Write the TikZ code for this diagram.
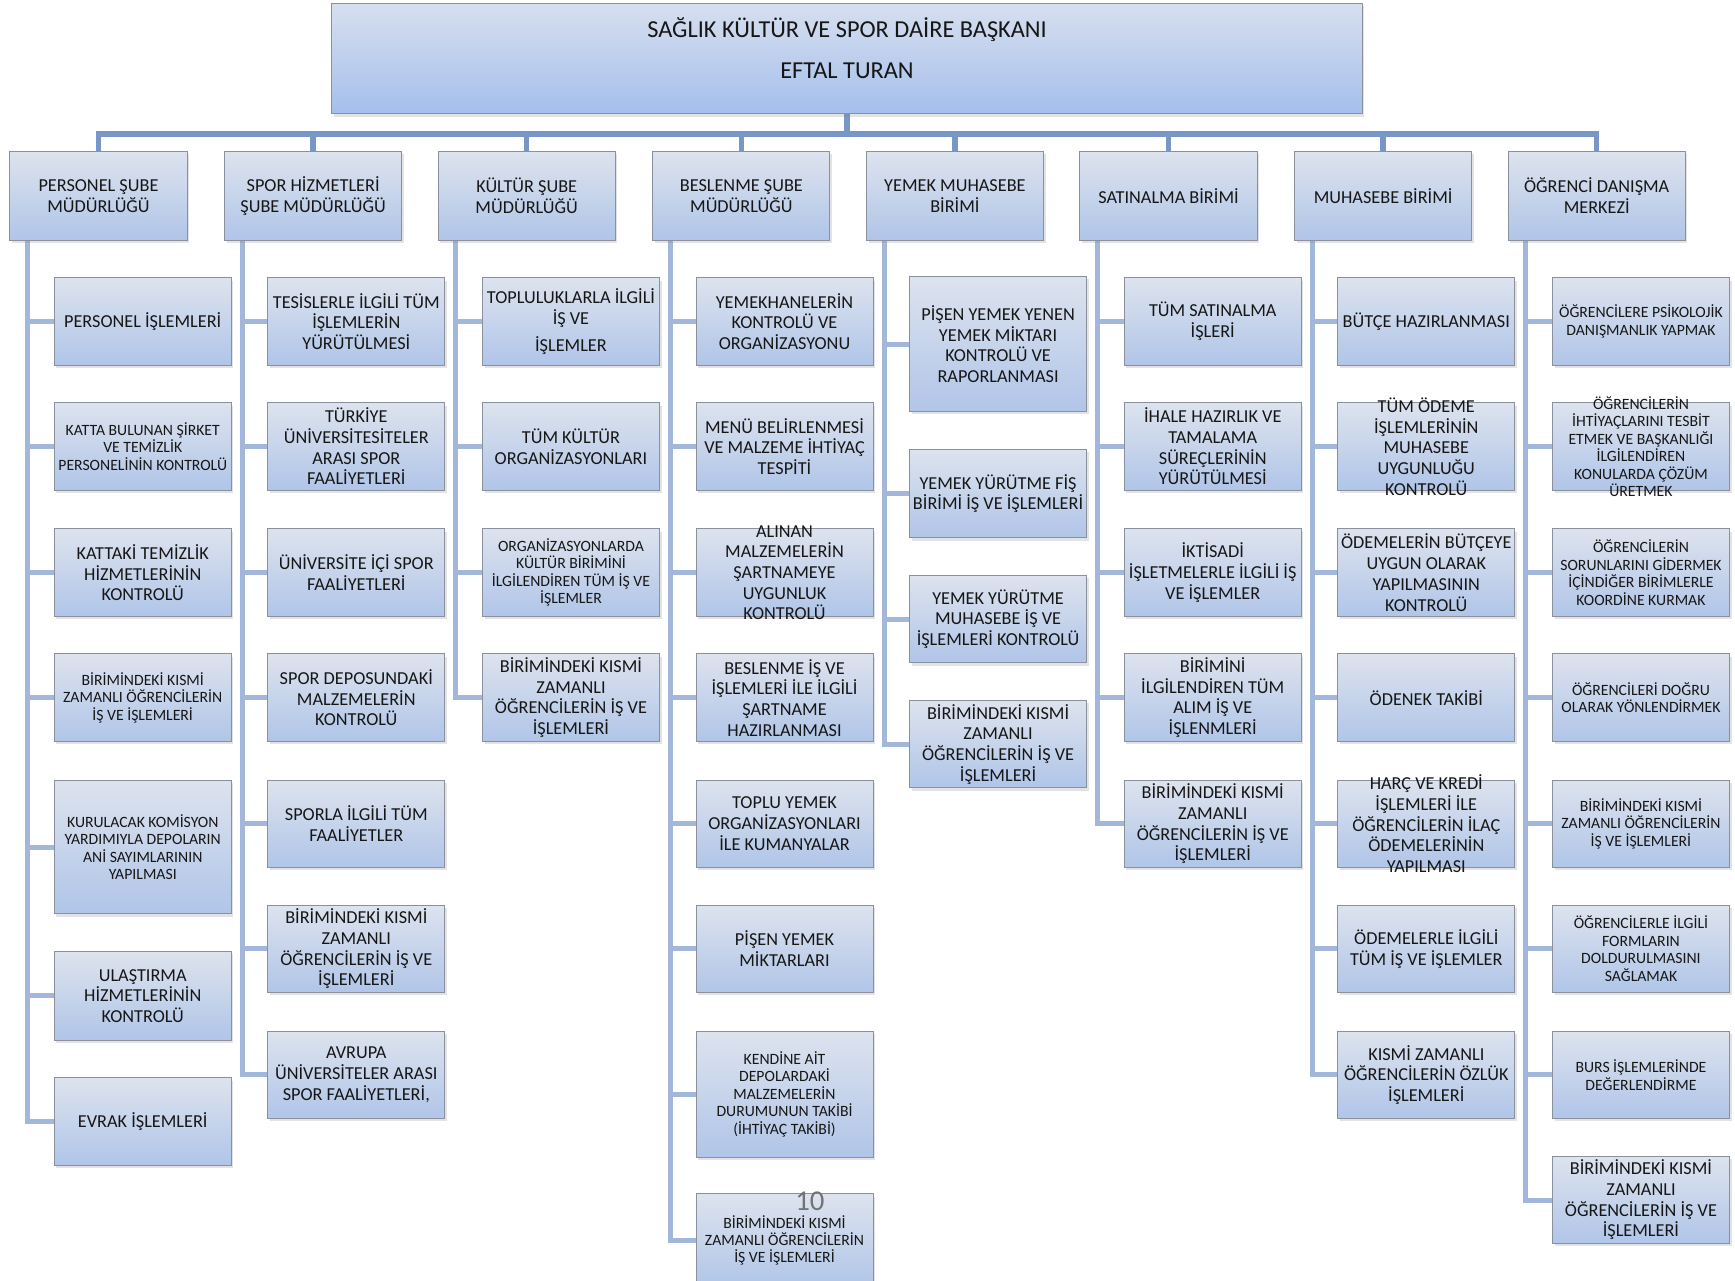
\documentclass[tikz,border=0pt]{standalone}
\usepackage{fontspec}
\setmainfont{Carlito}
\usetikzlibrary{shadows,backgrounds}
\definecolor{barc}{RGB}{121,151,198}
\definecolor{dropc}{RGB}{128,158,204}
\definecolor{brc}{RGB}{162,183,218}
\definecolor{boxtop}{RGB}{221,227,238}
\definecolor{boxbot}{RGB}{176,197,232}
\definecolor{boxline}{RGB}{138,144,156}
\definecolor{headtop}{RGB}{215,223,239}
\definecolor{headbot}{RGB}{164,191,236}
\definecolor{txt}{RGB}{22,22,22}
\newcommand{\nt}{\fontsize{16.5}{18.7}\selectfont}
\newcommand{\sm}{\fontsize{14.2}{15.8}\selectfont}
\newcommand{\leaf}[6]{\node[leafbox] (#1) at (#2,#3) {\parbox[c][#4pt][c]{157pt}{\centering#5 #6\par}};}
\tikzset{
  boxbase/.style={draw=boxline, line width=0.9pt, top color=boxtop, bottom color=boxbot, text=txt,
    drop shadow={shadow xshift=2pt,shadow yshift=-2.5pt,opacity=0.22}},
  leafbox/.style={boxbase, anchor=north west, inner xsep=1.5pt, inner ysep=0pt, outer sep=0pt},
  headbox/.style={boxbase, top color=headtop, bottom color=headbot, anchor=north west, inner xsep=3pt, inner ysep=0pt, outer sep=0pt},
  barline/.style={draw=barc, line width=5pt},
  dropline/.style={draw=dropc, line width=4.5pt},
  branch/.style={draw=brc, line width=4.5pt},
}
\begin{document}
\begin{tikzpicture}[x=1pt,y=-1pt]
\useasboundingbox (0,0) rectangle (1568,1157);
\clip (0,0) rectangle (1568,1157);

% top box
\node[headbox] (top) at (300,3) {\parbox[c][100pt][t]{925pt}{\centering\fontsize{22}{26}\selectfont\rule{0pt}{31pt}SAĞLIK KÜLTÜR VE SPOR DAİRE BAŞKANI\\[11pt]EFTAL TURAN}};
\coordinate (bar) at (top.south |- 0,121);

% level 2
\node[leafbox] (L1) at (9,137) {\parbox[c][80pt][c]{157pt}{\centering\nt PERSONEL ŞUBE\\MÜDÜRLÜĞÜ\par}};
\node[leafbox] (L2) at (203,137) {\parbox[c][80pt][c]{157pt}{\centering\nt SPOR HİZMETLERİ\\ŞUBE MÜDÜRLÜĞÜ\par}};
\node[leafbox] (L3) at (396,137) {\parbox[c][80pt][c]{157pt}{\centering\nt KÜLTÜR ŞUBE\\MÜDÜRLÜĞÜ\par}};
\node[leafbox] (L4) at (590,137) {\parbox[c][80pt][c]{157pt}{\centering\nt BESLENME ŞUBE\\MÜDÜRLÜĞÜ\par}};
\node[leafbox] (L5) at (783,137) {\parbox[c][80pt][c]{157pt}{\centering\nt YEMEK MUHASEBE\\BİRİMİ\par}};
\node[leafbox] (L6) at (976,137) {\parbox[c][80pt][c]{157pt}{\centering\nt SATINALMA BİRİMİ\par}};
\node[leafbox] (L7) at (1170,137) {\parbox[c][80pt][c]{157pt}{\centering\nt MUHASEBE BİRİMİ\par}};
\node[leafbox] (L8) at (1363,137) {\parbox[c][80pt][c]{157pt}{\centering\nt ÖĞRENCİ DANIŞMA\\MERKEZİ\par}};

% column 1
\leaf{c1a}{49}{251}{79}{\nt}{PERSONEL İŞLEMLERİ}
\leaf{c1b}{49}{364}{79}{\sm}{KATTA BULUNAN ŞİRKET\\VE TEMİZLİK\\PERSONELİNİN KONTROLÜ}
\leaf{c1c}{49}{478}{79}{\nt}{KATTAKİ TEMİZLİK\\HİZMETLERİNİN\\KONTROLÜ}
\leaf{c1d}{49}{591}{79}{\sm}{BİRİMİNDEKİ KISMİ\\ZAMANLI ÖĞRENCİLERİN\\İŞ VE İŞLEMLERİ}
\leaf{c1e}{49}{705}{121}{\sm}{KURULACAK KOMİSYON\\YARDIMIYLA DEPOLARIN\\ANİ SAYIMLARININ\\YAPILMASI}
\leaf{c1f}{49}{860}{80}{\nt}{ULAŞTIRMA\\HİZMETLERİNİN\\KONTROLÜ}
\leaf{c1g}{49}{974}{79}{\nt}{EVRAK İŞLEMLERİ}

% column 2
\leaf{c2a}{242}{251}{79}{\nt}{TESİSLERLE İLGİLİ TÜM\\İŞLEMLERİN\\YÜRÜTÜLMESİ}
\leaf{c2b}{242}{364}{79}{\nt}{TÜRKİYE\\ÜNİVERSİTESİTELER\\ARASI SPOR\\FAALİYETLERİ}
\leaf{c2c}{242}{478}{79}{\nt}{ÜNİVERSİTE İÇİ SPOR\\FAALİYETLERİ}
\leaf{c2d}{242}{591}{79}{\nt}{SPOR DEPOSUNDAKİ\\MALZEMELERİN\\KONTROLÜ}
\leaf{c2e}{242}{705}{79}{\nt}{SPORLA İLGİLİ TÜM\\FAALİYETLER}
\leaf{c2f}{242}{818}{79}{\nt}{BİRİMİNDEKİ KISMİ\\ZAMANLI\\ÖĞRENCİLERİN İŞ VE\\İŞLEMLERİ}
\leaf{c2g}{242}{932}{79}{\nt}{AVRUPA\\ÜNİVERSİTELER ARASI\\SPOR FAALİYETLERİ,}

% column 3
\leaf{c3a}{436}{251}{79}{\nt}{TOPLULUKLARLA İLGİLİ\\İŞ VE\\[6pt]İŞLEMLER}
\leaf{c3b}{436}{364}{79}{\nt}{TÜM KÜLTÜR\\ORGANİZASYONLARI}
\leaf{c3c}{436}{478}{79}{\sm}{ORGANİZASYONLARDA\\KÜLTÜR BİRİMİNİ\\İLGİLENDİREN TÜM İŞ VE\\İŞLEMLER}
\leaf{c3d}{436}{591}{79}{\nt}{BİRİMİNDEKİ KISMİ\\ZAMANLI\\ÖĞRENCİLERİN İŞ VE\\İŞLEMLERİ}

% column 4
\leaf{c4a}{629}{251}{79}{\nt}{YEMEKHANELERİN\\KONTROLÜ VE\\ORGANİZASYONU}
\leaf{c4b}{629}{364}{79}{\nt}{MENÜ BELİRLENMESİ\\VE MALZEME İHTİYAÇ\\TESPİTİ}
\leaf{c4c}{629}{478}{79}{\nt}{ALINAN\\MALZEMELERİN\\ŞARTNAMEYE\\UYGUNLUK\\KONTROLÜ}
\leaf{c4d}{629}{591}{79}{\nt}{BESLENME İŞ VE\\İŞLEMLERİ İLE İLGİLİ\\ŞARTNAME\\HAZIRLANMASI}
\leaf{c4e}{629}{705}{79}{\nt}{TOPLU YEMEK\\ORGANİZASYONLARI\\İLE KUMANYALAR}
\leaf{c4f}{629}{818}{79}{\nt}{PİŞEN YEMEK\\MİKTARLARI}
\leaf{c4g}{629}{932}{114}{\sm}{KENDİNE AİT\\DEPOLARDAKİ\\MALZEMELERİN\\DURUMUNUN TAKİBİ\\(İHTİYAÇ TAKİBİ)}
\leaf{c4h}{629}{1079}{84}{\sm}{BİRİMİNDEKİ KISMİ\\ZAMANLI ÖĞRENCİLERİN\\İŞ VE İŞLEMLERİ}
\node[text=black!55, font=\fontsize{26}{28}\selectfont, inner sep=0pt] (pnum) at (732,1086) {10};

% column 5
\leaf{c5a}{822}{250}{122}{\nt}{PİŞEN YEMEK YENEN\\YEMEK MİKTARI\\KONTROLÜ VE\\RAPORLANMASI}
\leaf{c5b}{822}{406}{80}{\nt}{YEMEK YÜRÜTME FİŞ\\BİRİMİ İŞ VE İŞLEMLERİ}
\leaf{c5c}{822}{520}{79}{\nt}{YEMEK YÜRÜTME\\MUHASEBE İŞ VE\\İŞLEMLERİ KONTROLÜ}
\leaf{c5d}{822}{633}{79}{\nt}{BİRİMİNDEKİ KISMİ\\ZAMANLI\\ÖĞRENCİLERİN İŞ VE\\İŞLEMLERİ}

% column 6
\leaf{c6a}{1016}{251}{79}{\nt}{TÜM SATINALMA\\İŞLERİ}
\leaf{c6b}{1016}{364}{79}{\nt}{İHALE HAZIRLIK VE\\TAMALAMA\\SÜREÇLERİNİN\\YÜRÜTÜLMESİ}
\leaf{c6c}{1016}{478}{79}{\nt}{İKTİSADİ\\İŞLETMELERLE İLGİLİ İŞ\\VE İŞLEMLER}
\leaf{c6d}{1016}{591}{79}{\nt}{BİRİMİNİ\\İLGİLENDİREN TÜM\\ALIM İŞ VE\\İŞLENMLERİ}
\leaf{c6e}{1016}{705}{79}{\nt}{BİRİMİNDEKİ KISMİ\\ZAMANLI\\ÖĞRENCİLERİN İŞ VE\\İŞLEMLERİ}

% column 7
\leaf{c7a}{1209}{251}{79}{\nt}{BÜTÇE HAZIRLANMASI}
\leaf{c7b}{1209}{364}{79}{\nt}{TÜM ÖDEME\\İŞLEMLERİNİN\\MUHASEBE\\UYGUNLUĞU\\KONTROLÜ}
\leaf{c7c}{1209}{478}{79}{\nt}{ÖDEMELERİN BÜTÇEYE\\UYGUN OLARAK\\YAPILMASININ\\KONTROLÜ}
\leaf{c7d}{1209}{591}{79}{\nt}{ÖDENEK TAKİBİ}
\leaf{c7e}{1209}{705}{79}{\nt}{HARÇ VE KREDİ\\İŞLEMLERİ İLE\\ÖĞRENCİLERİN İLAÇ\\ÖDEMELERİNİN\\YAPILMASI}
\leaf{c7f}{1209}{818}{79}{\nt}{ÖDEMELERLE İLGİLİ\\TÜM İŞ VE İŞLEMLER}
\leaf{c7g}{1209}{932}{79}{\nt}{KISMİ ZAMANLI\\ÖĞRENCİLERİN ÖZLÜK\\İŞLEMLERİ}

% column 8
\leaf{c8a}{1403}{251}{79}{\sm}{ÖĞRENCİLERE PSİKOLOJİK\\DANIŞMANLIK YAPMAK}
\leaf{c8b}{1403}{364}{79}{\sm}{ÖĞRENCİLERİN\\İHTİYAÇLARINI TESBİT\\ETMEK VE BAŞKANLIĞI\\İLGİLENDİREN\\KONULARDA ÇÖZÜM\\ÜRETMEK}
\leaf{c8c}{1403}{478}{79}{\sm}{ÖĞRENCİLERİN\\SORUNLARINI GİDERMEK\\İÇİNDİĞER BİRİMLERLE\\KOORDİNE KURMAK}
\leaf{c8d}{1403}{591}{79}{\sm}{ÖĞRENCİLERİ DOĞRU\\OLARAK YÖNLENDİRMEK}
\leaf{c8e}{1403}{705}{79}{\sm}{BİRİMİNDEKİ KISMİ\\ZAMANLI ÖĞRENCİLERİN\\İŞ VE İŞLEMLERİ}
\leaf{c8f}{1403}{818}{79}{\sm}{ÖĞRENCİLERLE İLGİLİ\\FORMLARIN\\DOLDURULMASINI\\SAĞLAMAK}
\leaf{c8g}{1403}{932}{79}{\sm}{BURS İŞLEMLERİNDE\\DEĞERLENDİRME}
\leaf{c8h}{1403}{1045}{79}{\nt}{BİRİMİNDEKİ KISMİ\\ZAMANLI\\ÖĞRENCİLERİN İŞ VE\\İŞLEMLERİ}

% connectors
\begin{scope}[on background layer]
  \fill[white] (0,0) rectangle (1568,1157);
  \draw[barline] (top.south) -- (bar);
  \foreach \p in {L1,L2,L3,L4,L5,L6,L7,L8}
    \draw[barline] (bar) -| (\p.north);
  \foreach \c in {c1a,c1b,c1c,c1d,c1e,c1f,c1g}
    \draw[branch] ([xshift=16pt]L1.south west) |- (\c.west);
  \foreach \c in {c2a,c2b,c2c,c2d,c2e,c2f,c2g}
    \draw[branch] ([xshift=16pt]L2.south west) |- (\c.west);
  \foreach \c in {c3a,c3b,c3c,c3d}
    \draw[branch] ([xshift=16pt]L3.south west) |- (\c.west);
  \foreach \c in {c4a,c4b,c4c,c4d,c4e,c4f,c4g,c4h}
    \draw[branch] ([xshift=16pt]L4.south west) |- (\c.west);
  \foreach \c in {c5a,c5b,c5c,c5d}
    \draw[branch] ([xshift=16pt]L5.south west) |- (\c.west);
  \foreach \c in {c6a,c6b,c6c,c6d,c6e}
    \draw[branch] ([xshift=16pt]L6.south west) |- (\c.west);
  \foreach \c in {c7a,c7b,c7c,c7d,c7e,c7f,c7g}
    \draw[branch] ([xshift=16pt]L7.south west) |- (\c.west);
  \foreach \c in {c8a,c8b,c8c,c8d,c8e,c8f,c8g,c8h}
    \draw[branch] ([xshift=16pt]L8.south west) |- (\c.west);
\end{scope}
\end{tikzpicture}
\end{document}
